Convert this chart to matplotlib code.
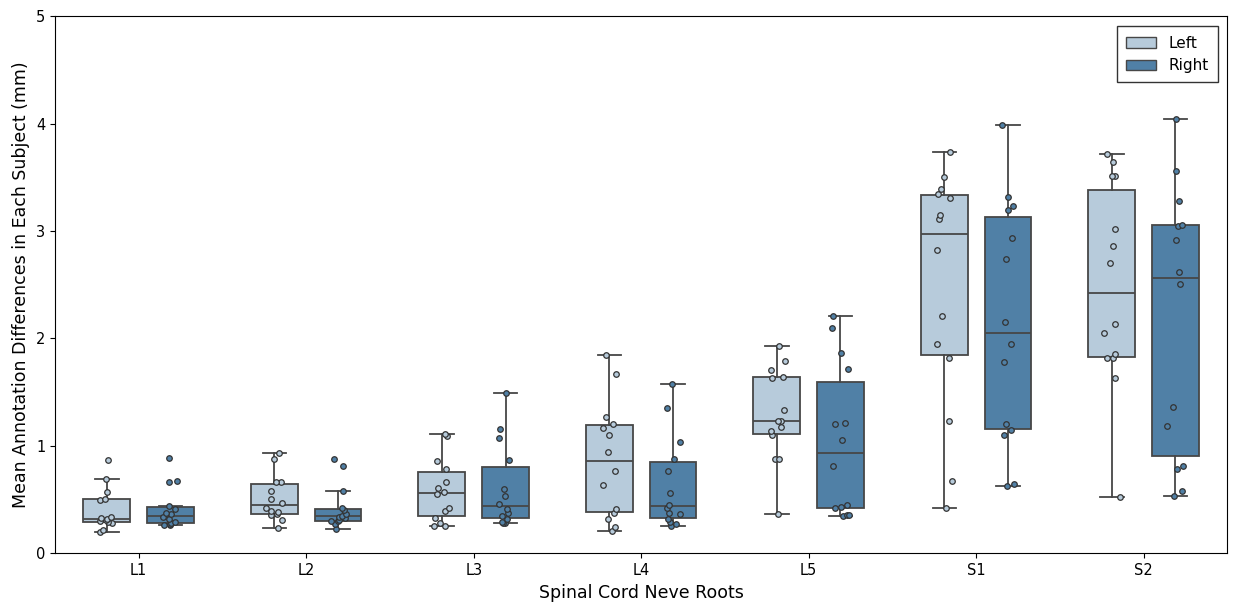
import numpy as np
import matplotlib
matplotlib.use("Agg")
import matplotlib.pyplot as plt
from matplotlib.patches import Patch

roots = ["L1", "L2", "L3", "L4", "L5", "S1", "S2"]

# mean annotation difference per subject (mm), 14 subjects
left = {
    "L1": [0.198, 0.220, 0.280, 0.290, 0.300, 0.312, 0.318, 0.325, 0.333, 0.498, 0.505, 0.570, 0.690, 0.870],
    "L2": [0.239, 0.307, 0.354, 0.363, 0.385, 0.394, 0.425, 0.466, 0.506, 0.580, 0.664, 0.664, 0.875, 0.937],
    "L3": [0.254, 0.258, 0.279, 0.332, 0.397, 0.419, 0.552, 0.568, 0.611, 0.664, 0.782, 0.863, 1.089, 1.114],
    "L4": [0.208, 0.242, 0.319, 0.375, 0.416, 0.633, 0.763, 0.947, 1.105, 1.170, 1.204, 1.269, 1.667, 1.846],
    "L5": [0.363, 0.875, 0.881, 1.105, 1.136, 1.173, 1.235, 1.235, 1.335, 1.632, 1.642, 1.710, 1.791, 1.934],
    "S1": [0.422, 0.670, 1.229, 1.816, 1.952, 2.210, 2.821, 3.116, 3.154, 3.312, 3.343, 3.389, 3.504, 3.736],
    "S2": [0.524, 1.632, 1.819, 1.819, 1.853, 2.055, 2.139, 2.700, 2.858, 3.017, 3.510, 3.510, 3.641, 3.718],
}
right = {
    "L1": [0.261, 0.265, 0.268, 0.282, 0.290, 0.322, 0.340, 0.362, 0.375, 0.408, 0.440, 0.665, 0.675, 0.887],
    "L2": [0.230, 0.276, 0.298, 0.302, 0.307, 0.329, 0.340, 0.350, 0.363, 0.407, 0.419, 0.580, 0.810, 0.875],
    "L3": [0.282, 0.285, 0.295, 0.319, 0.351, 0.372, 0.410, 0.462, 0.534, 0.602, 0.872, 1.071, 1.155, 1.493],
    "L4": [0.251, 0.270, 0.289, 0.317, 0.366, 0.379, 0.422, 0.450, 0.562, 0.770, 0.878, 1.034, 1.357, 1.574],
    "L5": [0.351, 0.356, 0.360, 0.422, 0.428, 0.447, 0.816, 1.055, 1.204, 1.213, 1.716, 1.865, 2.098, 2.213],
    "S1": [0.624, 0.649, 1.101, 1.145, 1.207, 1.781, 1.949, 2.151, 2.737, 2.939, 3.200, 3.234, 3.318, 3.985],
    "S2": [0.531, 0.577, 0.785, 0.816, 1.189, 1.366, 2.508, 2.619, 2.914, 3.048, 3.057, 3.280, 3.563, 4.041],
}

c_left = "#b7cbdb"
c_right = "#5080a6"
edge = "#474747"

fig, ax = plt.subplots(figsize=(12.36, 6.02), dpi=100)
fig.subplots_adjust(left=0.0445, right=0.993, top=0.973, bottom=0.081)

x = np.arange(len(roots))
off = 0.19
w = 0.28
rng = np.random.default_rng(3)

for side, data, col, sgn in [("Left", left, c_left, -1), ("Right", right, c_right, 1)]:
    vals = [data[r] for r in roots]
    pos = x + sgn * off
    ax.boxplot(vals, positions=pos, widths=w, patch_artist=True, showfliers=False,
               boxprops=dict(facecolor=col, edgecolor=edge, linewidth=1.3),
               medianprops=dict(color=edge, linewidth=1.3),
               whiskerprops=dict(color=edge, linewidth=1.3),
               capprops=dict(color=edge, linewidth=1.3), zorder=2)
    for p, v in zip(pos, vals):
        jx = p + rng.uniform(-0.05, 0.05, len(v))
        ax.scatter(jx, v, s=16, facecolor=col, edgecolor="#333333", linewidth=0.9, zorder=3)

ax.set_xticks(x)
ax.set_xticklabels(roots, fontsize=10.5)
ax.set_xlim(-0.5, len(roots) - 0.5)
ax.set_ylim(0, 5)
ax.set_yticks(range(6))
ax.tick_params(axis="y", labelsize=10.5)
ax.set_xlabel("Spinal Cord Neve Roots", fontsize=12.5)
ax.set_ylabel("Mean Annotation Differences in Each Subject (mm)", fontsize=12.5)

handles = [Patch(facecolor=c_left, edgecolor=edge, label="Left"),
           Patch(facecolor=c_right, edgecolor=edge, label="Right")]
leg = ax.legend(handles=handles, loc="upper right", fontsize=11, fancybox=False,
                edgecolor="black", borderpad=0.6, borderaxespad=0,
                bbox_to_anchor=(0.992, 0.981))
leg.get_frame().set_linewidth(1.0)

fig.savefig("out.png", dpi=100)
